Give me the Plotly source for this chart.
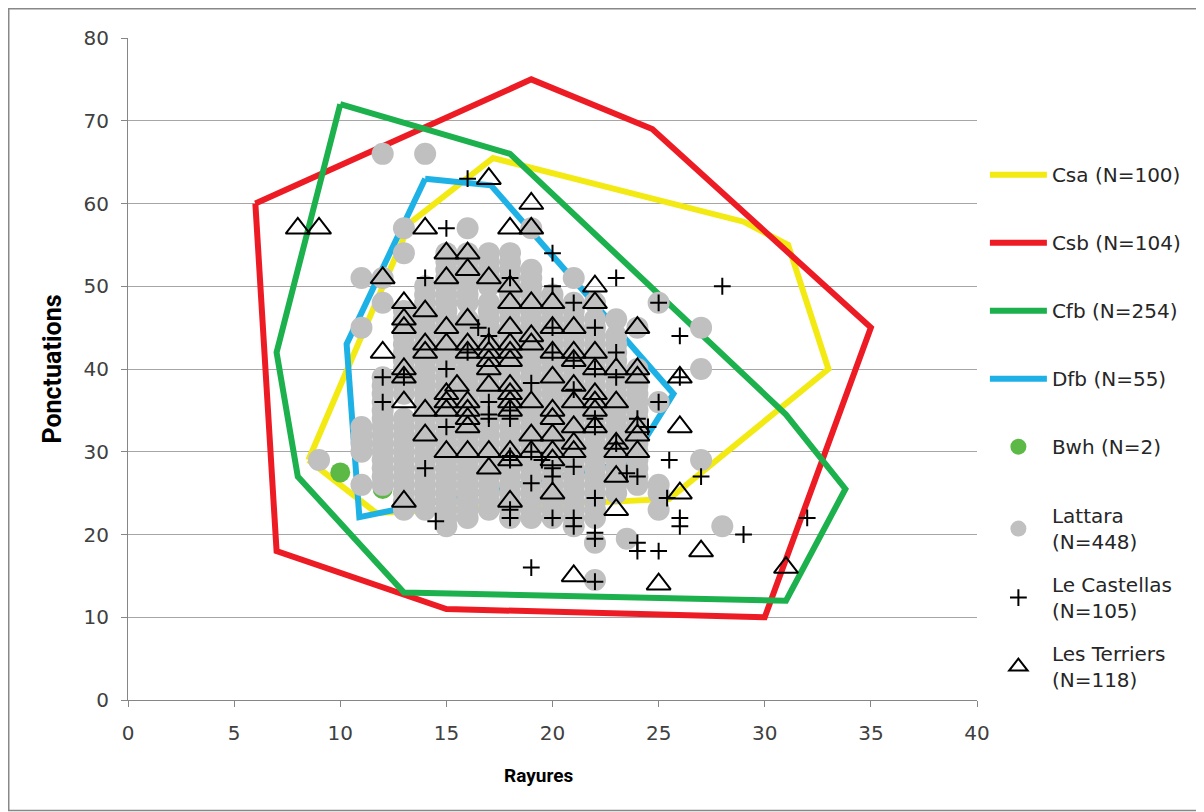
import plotly.graph_objects as go

# ---------------- Data ----------------
# Convex envelopes of the climate reference groups (Rayures, Ponctuations)
csa_x = [8.5, 13.3, 17.2, 29.0, 31.1, 33.0, 25.5, 11.7, 8.5]
csa_y = [29.0, 57.7, 65.5, 57.8, 55.0, 40.0, 24.3, 22.6, 29.0]

csb_x = [6.0, 19.0, 24.7, 35.0, 30.0, 15.0, 7.0, 6.0]
csb_y = [60.0, 75.0, 69.0, 45.0, 10.0, 11.0, 18.0, 60.0]

cfb_x = [10.0, 18.0, 31.0, 33.8, 31.0, 13.0, 8.0, 7.0, 10.0]
cfb_y = [72.0, 66.0, 34.5, 25.5, 12.0, 13.0, 27.0, 42.0, 72.0]

dfb_x = [14.0, 17.1, 25.7, 23.7, 10.9, 10.3, 14.0]
dfb_y = [63.0, 62.2, 37.0, 28.8, 22.1, 43.0, 63.0]

bwh_x = [10.0, 12.0]
bwh_y = [27.5, 25.5]

# Lattara (grey discs): one list of Ponctuations values per Rayures column
lattara_columns = [9, 11, 12, 13, 14, 15, 16, 17, 18, 19, 20, 21, 22, 23, 23.5, 24, 25, 27, 28]
lat_09 = [29]
lat_11 = [51, 45, 33, 32, 31, 30, 26]
lat_12 = [66, 51, 48, 39, 38, 37, 36, 35, 34, 33, 32, 31, 30, 29, 28, 27, 26]
lat_13 = [57, 54, 47, 46, 45, 44, 43, 42, 41, 40, 39, 38, 37, 34, 33, 32, 31, 30, 29,
          28, 27, 26, 25, 24, 23]
lat_14 = [66, 50, 49, 48, 47, 46, 45, 44, 43, 42, 41, 40, 39, 38, 37, 36, 35, 34, 33,
          32, 31, 30, 29, 28, 27, 26, 25, 24, 23]
lat_15 = [54, 53, 52, 51, 50, 49, 48, 47, 46, 45, 44, 43, 42, 41, 40, 39, 38, 37, 36,
          35, 34, 33, 32, 31, 30, 29, 28, 27, 26, 25, 24, 23, 22, 21]
lat_16 = [57, 54, 53, 52, 51, 50, 49, 48, 46, 45, 44, 43, 42, 41, 40, 39, 38, 37, 36,
          35, 34, 33, 32, 31, 30, 29, 28, 27, 26, 25, 24, 23, 22]
lat_17 = [54, 53, 52, 51, 50, 48, 47, 46, 45, 44, 43, 42, 41, 40, 39, 38, 37, 36, 35,
          34, 33, 32, 31, 30, 29, 28, 27, 26, 25, 24, 23]
lat_18 = [54, 53, 52, 51, 50, 49, 48, 47, 46, 45, 44, 43, 42, 41, 40, 39, 38, 37, 36,
          35, 34, 33, 32, 31, 30, 29, 28, 27, 26, 25, 24, 23, 22]
lat_19 = [57, 52, 51, 50, 49, 48, 47, 46, 45, 44, 43, 42, 41, 40, 39, 38, 37, 36, 35,
          34, 33, 32, 31, 30, 29, 28, 27, 26, 25, 24, 23, 22]
lat_20 = [49, 48, 47, 46, 45, 44, 43, 42, 41, 40, 39, 38, 37, 36, 35, 34, 33, 32, 31,
          30, 29, 28, 27, 26, 25, 24, 23, 22]
lat_21 = [51, 48, 47, 46, 45, 44, 43, 42, 41, 40, 39, 38, 37, 36, 35, 34, 33, 32, 31,
          30, 29, 28, 27, 26, 25, 24, 23, 22, 21]
lat_22 = [48, 46, 45, 44, 43, 42, 41, 40, 39, 38, 37, 36, 35, 34, 33, 32, 31, 30, 29,
          28, 27, 26, 25, 24, 23, 22, 19, 14.5]
lat_23 = [46, 44, 43, 42, 41, 40, 39, 38, 37, 36, 35, 34, 33, 32, 31, 30, 29, 28, 27,
          26, 25]
lat_23_5 = [19.5]
lat_24 = [45, 40, 39, 38, 37, 36, 35, 34, 33, 32, 31, 30, 29, 28, 27, 26]
lat_25 = [48, 36, 26, 25, 23]
lat_27 = [45, 40, 29]
lat_28 = [21]
lattara_values = [lat_09, lat_11, lat_12, lat_13, lat_14, lat_15, lat_16, lat_17, lat_18,
                  lat_19, lat_20, lat_21, lat_22, lat_23, lat_23_5, lat_24, lat_25,
                  lat_27, lat_28]

# Le Castellas (crosses)
castellas_x = [16, 15, 20, 23, 25, 28, 21, 20, 18, 14, 26, 26, 23, 23, 20, 20, 22,
               21, 22, 22, 18, 17, 17, 19, 19.5, 20, 20, 21, 19, 23.5, 24, 24.5, 24,
               22, 25, 25.5, 27, 25.4, 26, 26, 22, 20, 21, 21, 22, 18, 18, 14.5, 14,
               12, 12, 13, 15, 16.5, 19, 18, 18, 17, 22, 24, 24, 25, 19, 22, 29, 32,
               18, 16, 15, 21, 23, 17]
castellas_y = [63, 57, 54, 51, 48, 50, 48, 50, 51, 51, 44, 39, 42, 39, 45, 42, 45,
               37.5, 34, 33, 34, 36, 34.5, 30, 29, 28, 27, 28.2, 26.2, 27.4, 27, 33, 34,
               40, 36, 29, 27, 24.4, 22, 21, 24.4, 22, 22, 21, 20.2, 22, 23, 21.6, 28,
               39, 36, 39, 40, 45, 38.3, 35, 29, 34, 19.5, 19, 18, 18, 16, 14.3, 20, 22,
               29.5, 42, 33, 41, 31, 44]

# Les Terriers (open triangles)
terriers_x = [8, 9, 14, 18, 19, 17, 19, 15, 16, 16, 15, 17, 12, 18, 22, 22, 18, 19,
              20, 21, 24, 13, 13, 13, 14, 14, 14, 15, 15, 16, 16, 16, 17, 17, 17, 18,
              18, 18, 18, 19, 19, 20, 20, 21, 21, 22, 22, 23, 24, 24, 26, 12, 13, 13,
              13, 14, 15, 15, 15, 16, 16, 16, 16, 17, 17, 18, 18, 18, 18, 19, 19, 20,
              20, 20, 20, 21, 21, 21, 21, 22, 22, 22, 23, 23, 23, 23, 24, 24, 24, 26,
              14, 15, 16, 17, 17, 18, 18, 18, 19, 20, 20, 21, 13, 23, 26, 21, 25, 27,
              31, 15.5, 20, 22]
terriers_y = [57, 57, 57, 57, 57, 63, 60, 54, 54, 52, 51, 51, 51, 50, 50, 48, 48, 48,
              48, 45, 45, 48, 46, 45, 47, 43, 42, 45, 43, 46, 43, 42, 43, 42, 41, 45,
              43, 42, 41, 44, 43, 42, 45, 42, 41, 42, 40, 40, 40, 39, 39, 42, 40, 39,
              36, 35, 37, 36, 35, 36, 35, 34, 33, 38, 40, 38, 37, 36, 35, 36, 32, 39,
              35, 34, 32, 38, 36, 33, 30, 37, 36, 33, 36, 31, 30, 27, 33, 32, 30, 33,
              32, 30, 30, 30, 28, 30, 29, 24, 30, 30, 29, 31, 24, 23, 25, 15, 14, 18,
              16, 38, 25, 35]

x_ticks = [0, 5, 10, 15, 20, 25, 30, 35, 40]
y_ticks = [0, 10, 20, 30, 40, 50, 60, 70, 80]

# ---------------- Build point arrays for Lattara ----------------
lattara_x, lattara_y = [], []
for cx, ys in zip(lattara_columns, lattara_values):
    for yv in ys:
        lattara_x.append(cx)
        lattara_y.append(yv)

# ---------------- Figure ----------------
FONT = "DejaVu Sans, sans-serif"
TITLE_FONT = "Liberation Sans Narrow, Roboto, Liberation Sans, sans-serif"

W, H = 1196, 804          # page body has an 8px margin
L, T, PW, PH = 120, 30, 849, 662

fig = go.Figure()

polys = [
    ("Csa (N=100)", csa_x, csa_y, "#F2EA12"),
    ("Csb (N=104)", csb_x, csb_y, "#ED1C24"),
    ("Cfb (N=254)", cfb_x, cfb_y, "#1DB14E"),
    ("Dfb (N=55)", dfb_x, dfb_y, "#1EB1E6"),
]
for name, xs, ys, col in polys:
    fig.add_trace(go.Scatter(
        x=xs, y=ys, mode="lines", name=name,
        line=dict(color=col, width=6), legend="legend", legendgroup=name,
        hoverinfo="skip"))

fig.add_trace(go.Scatter(
    x=bwh_x, y=bwh_y, mode="markers", name="Bwh (N=2)",
    marker=dict(color="#5DB946", size=20, line=dict(width=0)),
    legend="legend", legendgroup="Bwh"))

fig.add_trace(go.Scatter(
    x=lattara_x, y=lattara_y, mode="markers", name="Lattara<br>(N=448)",
    marker=dict(color="#C0C0C0", size=22, line=dict(width=0)),
    legend="legend2", legendgroup="Lattara"))

fig.add_trace(go.Scatter(
    x=castellas_x, y=castellas_y, mode="markers", name="Le Castellas<br>(N=105)",
    marker=dict(symbol="cross-thin-open", color="black", size=12,
                line=dict(color="black", width=2)),
    legend="legend2", legendgroup="Castellas"))

fig.add_trace(go.Scatter(
    x=terriers_x, y=terriers_y, mode="markers", name="Les Terriers<br>(N=118)",
    marker=dict(symbol="triangle-up-open", color="black", size=21,
                line=dict(color="black", width=2)),
    legend="legend2", legendgroup="Terriers"))

axis_common = dict(
    showline=True, linecolor="#868686", linewidth=1,
    ticks="outside", ticklen=6, tickcolor="#868686",
    tickfont=dict(family=FONT, size=20, color="#404040"),
    zeroline=False,
)

fig.update_layout(
    width=W, height=H,
    margin=dict(l=L, r=W - L - PW, t=T, b=H - T - PH, autoexpand=False),
    paper_bgcolor="white", plot_bgcolor="white",
    xaxis=dict(range=[0, 40], tickvals=x_ticks, showgrid=False,
               ticklabelstandoff=9, **axis_common),
    yaxis=dict(range=[0, 80], tickvals=y_ticks, showgrid=True,
               gridcolor="#A6A6A6", gridwidth=1, ticklabelstandoff=8,
               title=dict(text="<b>Ponctuations</b>", standoff=14,
                          font=dict(family=TITLE_FONT, size=25, color="black")),
               **axis_common),
    legend=dict(x=1.0093, y=0.823, xanchor="left", yanchor="top",
                font=dict(family=FONT, size=20, color="#262626"),
                itemwidth=57,
                tracegroupgap=39, bgcolor="rgba(0,0,0,0)"),
    legend2=dict(x=1.0093, y=0.308, xanchor="left", yanchor="top",
                 font=dict(family=FONT, size=20, color="#262626"),
                 itemwidth=57,
                 tracegroupgap=14, bgcolor="rgba(0,0,0,0)"),
    showlegend=True,
)

# X-axis title (placed slightly left of centre, as in the original)
fig.add_annotation(text="<b>Rayures</b>", xref="paper", yref="paper",
                   x=(530 - L) / PW, y=-(767 - T - PH) / PH,
                   xanchor="center", yanchor="middle", showarrow=False,
                   font=dict(family=TITLE_FONT, size=19, color="black"))

# Outer chart frame (around the whole figure)
fig.add_shape(type="rect", xref="paper", yref="paper",
              x0=(0.75 - L) / PW, x1=(W + 10 - L) / PW,
              y0=(T + PH - (H - 1.5)) / PH, y1=(T + PH - 0.75) / PH,
              line=dict(color="#888888", width=1.5), layer="below")

fig.write_html("out.html")
